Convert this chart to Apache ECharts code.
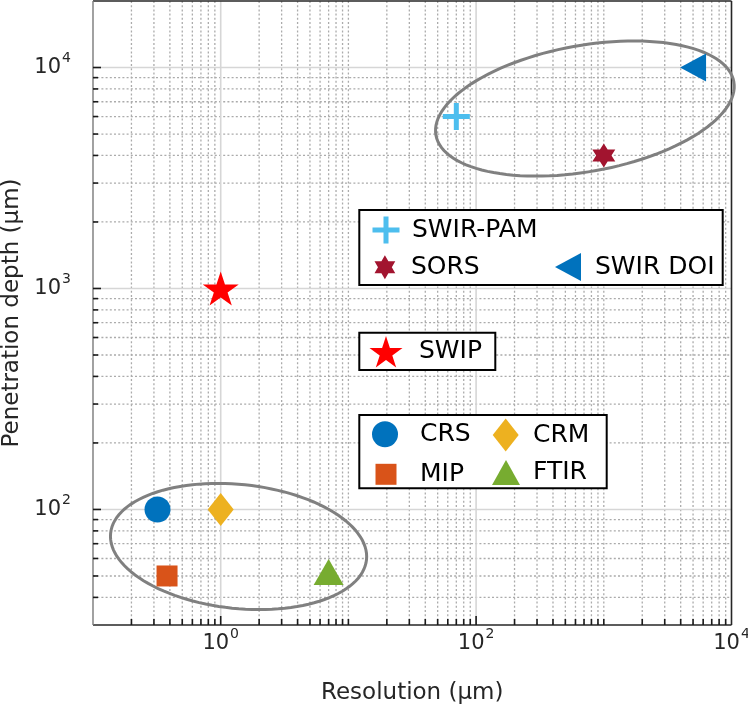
<!DOCTYPE html>
<html><head><meta charset="utf-8">
<script src="https://cdn.jsdelivr.net/npm/echarts@6/dist/echarts.min.js"></script>
<style>html,body{margin:0;padding:0;background:#fff}#c{width:748px;height:709px}</style>
</head><body><div id="c"></div>
<script>
// ---- data ----
const methods    = ['SWIR-PAM', 'SORS', 'SWIR DOI', 'SWIP', 'CRS', 'CRM', 'MIP', 'FTIR'];
const resolution = [70, 1000, 5000, 1, 0.32, 1, 0.38, 7];          // µm
const depth      = [6000, 4000, 10000, 1000, 100, 100, 50, 50];    // µm
const colors     = ['#4DBEEE', '#A2142F', '#0072BD', '#FF0000', '#0072BD', '#EDB120', '#D95319', '#77AC30'];

// ellipse annotations: [centerX, centerY, majorEndX, majorEndY, minorEndX, minorEndY] in data units
const upperEllipse = [711, 6523, 10427, 8626, 580.6, 12450];
const lowerEllipse = [1.38, 68, 13.86, 59.2, 1.551, 129.3];

// axis range and ticks
const xRange = [0.1, 10000];
const yRange = [30, 20000];
const xLabelValues = [1, 100, 10000];
const yLabelValues = [100, 1000, 10000];
const xMajorGrid = [1, 100];
const yMajorGrid = [100, 1000, 10000];
const xDecades = [0.1, 1, 10, 100, 1000];
const yDecades = [10, 100, 1000];
const multiples = [2, 3, 4, 5, 6, 7, 8, 9];
const xMinor = [];
xDecades.forEach(d => multiples.forEach(m => xMinor.push(d * m)));
xMinor.push(10, 1000);
const yMinor = [];
yDecades.forEach(d => multiples.forEach(m => { const v = d * m; if (v > 30 && v < 20000) yMinor.push(v); }));

// ---- symbols ----
const PLUS = 'path://M0,11 L11,11 L11,0 L16,0 L16,11 L27,11 L27,16 L16,16 L16,27 L11,27 L11,16 L0,16 Z';
const HEXAGRAM = 'path://M10,0 L12.89,5 L18.66,5 L15.77,10 L18.66,15 L12.89,15 L10,20 L7.11,15 L1.34,15 L4.23,10 L1.34,5 L7.11,5 Z';
const LTRI = 'path://M0,14 L26,0 L26,28 Z';
const STAR5 = 'path://M10,0 L12.25,6.91 L19.51,6.91 L13.63,11.18 L15.88,18.09 L10,13.82 L4.12,18.09 L6.37,11.18 L0.49,6.91 L7.75,6.91 Z';
const symbols = [PLUS, HEXAGRAM, LTRI, STAR5, 'circle', 'diamond', 'rect', 'triangle'];
const sizes = [27, [23, 24], [26, 28], [36, 34], 26, [26, 33], 21, [30, 26]];
const offsets = [[0,0],[0,0],[0,0],[0,0],[0,0],[0,0],[0,0],[0,-4]];

// legend layout: [left, top, itemW, itemH, textPad]
const legendLayout = [
  [372.5, 216.5, 27, 27, 7.5],
  [374.5, 254.7, 23, 24, 9.5],
  [555, 253, 26, 28, 9],
  [369.5, 336, 33, 32, 11.5],
  [372, 421.3, 26, 26, 17],
  [492.7, 418.5, 26, 33, 9.3],
  [375.5, 461.8, 21, 21, 18.5],
  [492, 460, 28, 25, 8]
];

const FONT = 'DejaVu Sans';
function fmt(labels) {
  return function (v) {
    const e = Math.log10(v), r = Math.round(e);
    if (Math.abs(e - r) > 1e-6) return '';
    if (!labels.some(l => Math.abs(Math.log10(l) - r) < 1e-6)) return '';
    return '{base|10}{sup|' + r + '}';
  };
}
const rich = {
  base: { fontFamily: FONT, fontSize: 21, color: '#262626', lineHeight: 24 },
  sup: { fontFamily: FONT, fontSize: 14, color: '#262626', padding: [0, 0, 19, 1], lineHeight: 16 }
};

function ellipseItem(params, api) {
  const c = api.coord([api.value(0), api.value(1)]);
  const a = api.coord([api.value(2), api.value(3)]);
  const b = api.coord([api.value(4), api.value(5)]);
  const ux = a[0] - c[0], uy = a[1] - c[1], vx = b[0] - c[0], vy = b[1] - c[1];
  const pts = [];
  for (let i = 0; i < 120; i++) {
    const t = i / 120 * Math.PI * 2;
    pts.push([c[0] + ux * Math.cos(t) + vx * Math.sin(t), c[1] + uy * Math.cos(t) + vy * Math.sin(t)]);
  }
  return { type: 'polygon', shape: { points: pts }, style: { fill: 'none', stroke: '#808080', lineWidth: 3 } };
}

function decoItem(params, api) {
  const p0 = api.coord([xRange[0], yRange[0]]);
  const p1 = api.coord([xRange[1], yRange[1]]);
  const L = p0[0], B = p0[1], R = p1[0], T = p1[1];
  const ch = [];
  const dotted = { stroke: '#ababab', lineWidth: 1.3, lineDash: [2, 2.2] };
  const solid = { stroke: '#d6d6d6', lineWidth: 1.6 };
  const tick = { stroke: '#1a1a1a', lineWidth: 1.6 };
  const X = v => api.coord([v, yRange[0]])[0];
  const Y = v => api.coord([xRange[0], v])[1];
  xMinor.forEach(v => { const p = X(v); ch.push({ type: 'line', shape: { x1: p, y1: T, x2: p, y2: B }, style: dotted }); });
  yMinor.forEach(v => { const p = Y(v); ch.push({ type: 'line', shape: { x1: L, y1: p, x2: R, y2: p }, style: dotted }); });
  xMajorGrid.forEach(v => { const p = X(v); ch.push({ type: 'line', shape: { x1: p, y1: T, x2: p, y2: B }, style: solid }); });
  yMajorGrid.forEach(v => { const p = Y(v); ch.push({ type: 'line', shape: { x1: L, y1: p, x2: R, y2: p }, style: solid }); });
  // frame
  const dark = { stroke: '#262626', lineWidth: 1.6 };
  ch.push({ type: 'line', shape: { x1: L, y1: T, x2: R, y2: T }, style: dark });
  ch.push({ type: 'line', shape: { x1: R, y1: T, x2: R, y2: B }, style: dark });
  ch.push({ type: 'line', shape: { x1: L, y1: B, x2: R, y2: B }, style: dark });
  ch.push({ type: 'line', shape: { x1: L, y1: T, x2: L, y2: B }, style: { stroke: '#7a7a7a', lineWidth: 1.4 } });
  // ticks
  xMinor.forEach(v => { const p = X(v); ch.push({ type: 'line', shape: { x1: p, y1: B, x2: p, y2: B - 6 }, style: tick }); });
  xMajorGrid.forEach(v => { const p = X(v); ch.push({ type: 'line', shape: { x1: p, y1: B, x2: p, y2: B - 9 }, style: tick }); });
  yMinor.forEach(v => { const p = Y(v); ch.push({ type: 'line', shape: { x1: L, y1: p, x2: L + 5, y2: p }, style: tick }); });
  yMajorGrid.forEach(v => { const p = Y(v); ch.push({ type: 'line', shape: { x1: L, y1: p, x2: L + 8, y2: p }, style: tick }); });
  return { type: 'group', children: ch };
}

const series = [
  { type: 'custom', name: 'deco', data: [[1, 100]], renderItem: decoItem, silent: true, z: 1, clip: false },
  { type: 'custom', name: 'ellipses', data: [upperEllipse, lowerEllipse], encode: { x: [0, 2, 4], y: [1, 3, 5] },
    renderItem: ellipseItem, silent: true, z: 2 }
];
methods.forEach((m, i) => {
  series.push({
    type: 'scatter', name: m, data: [[resolution[i], depth[i]]],
    symbol: symbols[i], symbolSize: sizes[i], symbolOffset: offsets[i],
    itemStyle: { color: colors[i], opacity: 1 }, z: 3, silent: true
  });
});

const legends = methods.map((m, i) => {
  const l = legendLayout[i];
  return {
    data: [{ name: m, icon: symbols[i], itemStyle: { color: colors[i] } }],
    left: l[0], top: l[1], itemWidth: l[2], itemHeight: l[3], padding: 0, itemGap: 0,
    selectedMode: false, z: 10,
    textStyle: { fontFamily: FONT, fontSize: 25, color: '#000', padding: [0, 0, 0, l[4]] }
  };
});

const boxStyle = { fill: '#fff', stroke: '#000', lineWidth: 2 };
const option = {
  animation: false,
  backgroundColor: '#fff',
  grid: { left: 93, right: 16.5, top: 1, bottom: 84, outerBoundsMode: 'none', containLabel: false, show: false },
  xAxis: {
    type: 'log', logBase: 10, min: xRange[0], max: xRange[1],
    axisLine: { show: false }, axisTick: { show: false }, splitLine: { show: false },
    axisLabel: { formatter: fmt(xLabelValues), rich: rich, fontFamily: FONT, fontSize: 21, color: '#262626',
      margin: 7, showMinLabel: true, showMaxLabel: true, hideOverlap: false },
    name: 'Resolution (µm)', nameLocation: 'middle', nameGap: 57,
    nameTextStyle: { fontFamily: FONT, fontSize: 23, color: '#262626' }
  },
  yAxis: {
    type: 'log', logBase: 10, min: yRange[0], max: yRange[1],
    axisLine: { show: false }, axisTick: { show: false }, splitLine: { show: false },
    axisLabel: { formatter: fmt(yLabelValues), rich: rich, fontFamily: FONT, fontSize: 21, color: '#262626',
      margin: 22, showMinLabel: true, showMaxLabel: true, hideOverlap: false },
    name: 'Penetration depth (µm)', nameLocation: 'middle', nameGap: 62,
    nameTextStyle: { fontFamily: FONT, fontSize: 23, color: '#262626' }
  },
  legend: legends,
  graphic: [
    { type: 'rect', z: 5, shape: { x: 359.3, y: 210, width: 363.4, height: 75 }, style: boxStyle },
    { type: 'rect', z: 5, shape: { x: 359.3, y: 332.7, width: 136, height: 37.3 }, style: boxStyle },
    { type: 'rect', z: 5, shape: { x: 359.3, y: 415, width: 247.4, height: 73.3 }, style: boxStyle }
  ],
  series: series
};
const chart = echarts.init(document.getElementById('c'), null, { renderer: 'canvas' });
chart.setOption(option);
</script></body></html>
